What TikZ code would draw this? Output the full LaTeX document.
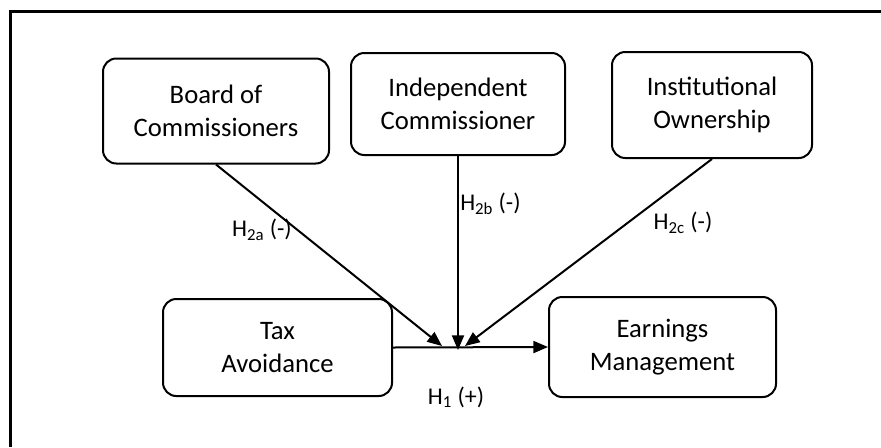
\documentclass[tikz,border=0pt]{standalone}
\usepackage{fontspec}
\setmainfont{Carlito}
\usetikzlibrary{arrows.meta}

\tikzset{
  varbox/.style={draw, line width=1.5pt, rounded corners=10pt, align=center,
    font=\fontsize{20}{25}\selectfont, inner sep=0pt},
  hyplabel/.style={inner sep=0.75pt, font=\fontsize{18}{21}\selectfont},
  arr/.style={line width=1.5pt, -{Triangle[length=11pt,width=9pt]}}
}

\begin{document}
\begin{tikzpicture}[x=0.75pt,y=0.75pt,yscale=-1,xscale=1]
        \useasboundingbox (0,0) rectangle (881,447);
        % outer frame (cut off at right and bottom)
        \draw [line width=2.25pt] (881,11) -- (10,11) -- (10,447);
        % variables
        \node [varbox, minimum width=169.5pt, minimum height=78.75pt] (board) at (216,111) {Board of\\Commissioners};
        \node [varbox, minimum width=160.5pt, minimum height=76.5pt] (indep) at (458,104) {Independent\\Commissioner};
        \node [varbox, minimum width=150pt, minimum height=79.5pt] (inst) at (712,105) {Institutional\\Ownership};
        \node [varbox, minimum width=171.75pt, minimum height=72.75pt] (tax) at (277.5,347.5) {Tax\\Avoidance};
        \node [varbox, minimum width=170.25pt, minimum height=75pt] (earn) at (662.5,347) {Earnings\\Management};
        % meeting points of the moderating arrows
        \coordinate (tipa) at (442,346);
        \coordinate (tipb) at (458,350);
        \coordinate (tipc) at (465,346);
        % arrows
        \draw [arr] (tax.east) -- (earn.west);
        \draw [arr] (board.south) -- (tipa);
        \draw [arr] (indep.south) -- (tipb);
        \draw [arr] (inst.south) -- (tipc);
        % hypotheses
        \node [hyplabel] (h2a) at (262,230) {H\textsubscript{2a} (-)};
        \node [hyplabel, anchor=west] (h2b) at (459,204) {H\textsubscript{2b} (-)};
        \node [hyplabel] (h2c) at (683,223) {H\textsubscript{2c} (-)};
        \node [hyplabel] (h1) at (456,397) {H\textsubscript{1} (+)};
    \end{tikzpicture}
\end{document}
